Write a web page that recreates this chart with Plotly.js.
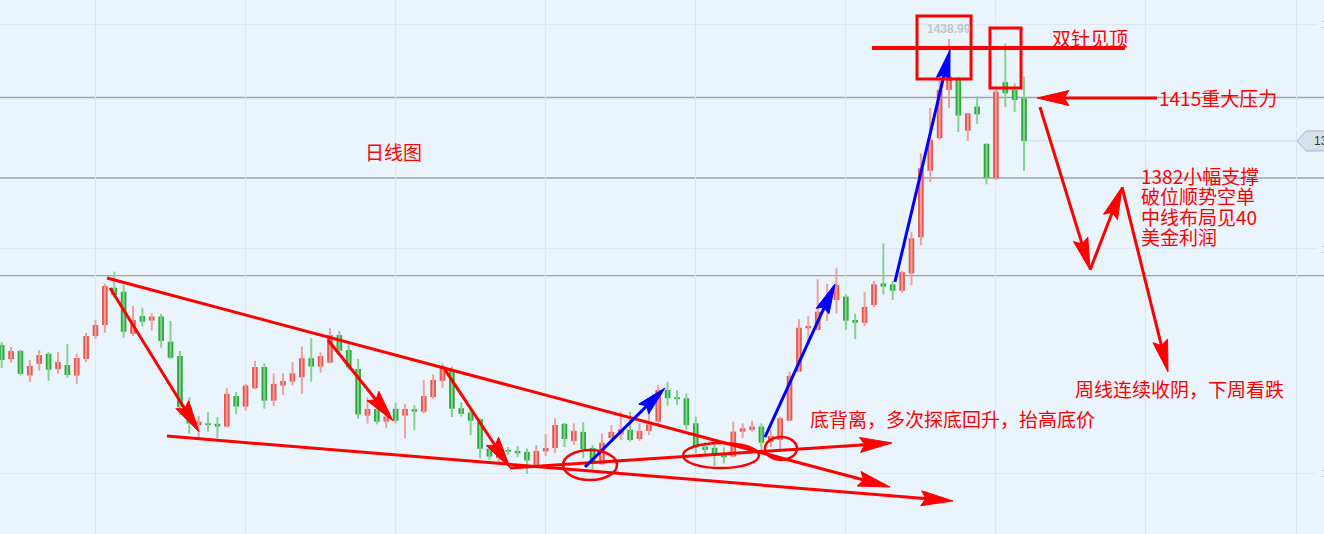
<!DOCTYPE html>
<html>
<head>
<meta charset="utf-8">
<script src="https://cdn.plot.ly/plotly-3.0.1.min.js"></script>
<style>
  html, body { margin: 0; padding: 0; background: #eaf4fd; }
  #chart { width: 1324px; height: 534px; }
</style>
</head>
<body>
<div id="chart"></div>
<script>
// Daily OHLC prices, oldest first
const openP = [
  1313.5, 1307.7, 1311.1, 1301.0, 1305.8, 1309.9, 1303.6, 1305.3, 1301.0, 1307.8,
  1317.2, 1321.7, 1337.0, 1335.4, 1318.1, 1325.4, 1323.5, 1325.2, 1314.9, 1309.0,
  1288.0, 1280.7, 1281.4, 1281.2, 1280.1, 1292.6, 1288.3, 1295.8, 1304.5, 1290.7,
  1296.9, 1298.5, 1300.3, 1308.1, 1304.7, 1306.3, 1317.6, 1311.5, 1303.7, 1284.6,
  1287.3, 1282.1, 1287.3, 1284.6, 1287.2, 1286.2, 1292.2, 1298.8, 1303.3, 1287.6,
  1285.8, 1283.1, 1271.0, 1267.2, 1270.5, 1270.1, 1269.7, 1263.9, 1269.9, 1271.3,
  1281.2, 1274.2, 1277.9, 1271.3, 1264.6, 1275.4, 1276.9, 1278.7, 1275.0, 1278.3,
  1282.1, 1295.1, 1292.1, 1291.7, 1281.4, 1271.9, 1271.4, 1268.9, 1267.8, 1278.0,
  1278.7, 1280.1, 1273.8, 1274.6, 1282.5, 1302.6, 1320.4, 1319.7, 1327.5, 1332.0,
  1333.4, 1323.8, 1322.6, 1329.9, 1338.8, 1338.4, 1335.8, 1342.9, 1357.7, 1385.0,
  1398.3, 1418.1, 1422.2, 1401.4, 1411.3, 1396.0, 1381.9, 1421.3, 1418.1, 1414.7
];
const highP = [
  1314.8, 1312.7, 1311.5, 1307.4, 1311.5, 1310.6, 1310.6, 1314.0, 1309.9, 1318.5,
  1323.8, 1338.6, 1343.6, 1338.1, 1329.5, 1328.8, 1326.5, 1326.3, 1323.4, 1311.1,
  1292.1, 1284.4, 1286.0, 1283.9, 1295.8, 1294.3, 1297.6, 1307.0, 1306.0, 1301.9,
  1301.9, 1306.5, 1312.9, 1316.3, 1310.6, 1320.4, 1319.3, 1314.0, 1307.8, 1292.1,
  1289.4, 1287.2, 1289.8, 1289.2, 1288.9, 1299.2, 1301.5, 1306.0, 1304.7, 1290.1,
  1287.6, 1283.5, 1272.1, 1271.3, 1271.7, 1272.1, 1271.1, 1272.5, 1277.1, 1283.5,
  1281.6, 1281.4, 1281.9, 1272.5, 1277.3, 1280.7, 1286.2, 1286.2, 1281.4, 1286.9,
  1297.1, 1298.5, 1295.1, 1293.7, 1284.2, 1273.7, 1273.2, 1271.6, 1282.1, 1281.4,
  1282.5, 1281.4, 1278.7, 1284.2, 1302.6, 1324.1, 1325.4, 1340.5, 1338.6, 1345.0,
  1334.3, 1326.3, 1335.3, 1339.8, 1355.2, 1339.8, 1343.9, 1359.8, 1392.1, 1410.8,
  1424.2, 1438.99, 1423.6, 1408.7, 1415.4, 1396.2, 1418.1, 1437.2, 1420.8, 1423.6
];
const lowP = [
  1304.1, 1306.3, 1301.0, 1298.3, 1303.0, 1298.9, 1301.7, 1300.1, 1297.6, 1306.5,
  1316.0, 1318.6, 1332.8, 1316.5, 1317.2, 1321.1, 1319.4, 1312.4, 1307.8, 1284.8,
  1277.3, 1275.7, 1278.0, 1275.3, 1279.6, 1285.1, 1286.6, 1295.4, 1287.4, 1288.5,
  1293.0, 1297.1, 1293.5, 1298.5, 1302.2, 1306.0, 1310.3, 1303.3, 1283.3, 1281.3,
  1281.0, 1279.6, 1281.4, 1275.3, 1278.7, 1285.5, 1291.5, 1296.0, 1284.0, 1284.2,
  1276.6, 1267.1, 1266.4, 1265.6, 1268.4, 1267.6, 1260.7, 1263.7, 1268.0, 1269.3,
  1271.7, 1272.5, 1267.1, 1262.5, 1264.3, 1273.8, 1274.6, 1273.9, 1274.2, 1276.6,
  1280.7, 1288.7, 1288.9, 1278.7, 1269.1, 1267.8, 1263.9, 1265.0, 1267.5, 1275.3,
  1278.0, 1270.5, 1271.7, 1269.8, 1282.3, 1302.4, 1314.2, 1319.5, 1323.4, 1326.5,
  1319.7, 1315.9, 1321.3, 1329.1, 1334.3, 1332.0, 1335.0, 1338.1, 1354.5, 1380.3,
  1397.6, 1410.6, 1400.8, 1397.2, 1404.2, 1379.4, 1381.2, 1411.0, 1409.0, 1384.9
];
const closeP = [
  1307.4, 1311.1, 1301.7, 1304.9, 1309.4, 1303.4, 1306.5, 1301.2, 1308.2, 1317.2,
  1321.7, 1337.7, 1334.0, 1319.0, 1323.8, 1323.1, 1325.2, 1315.2, 1308.3, 1288.0,
  1281.4, 1282.1, 1280.7, 1280.1, 1293.5, 1288.3, 1296.9, 1304.5, 1290.7, 1297.6,
  1298.8, 1301.9, 1308.1, 1304.7, 1309.0, 1317.6, 1311.2, 1304.4, 1285.1, 1287.3,
  1282.1, 1284.2, 1282.5, 1287.3, 1286.2, 1292.6, 1299.2, 1304.7, 1287.4, 1285.3,
  1282.5, 1271.0, 1267.8, 1269.7, 1269.8, 1269.1, 1266.2, 1270.1, 1271.3, 1280.7,
  1275.0, 1278.3, 1270.8, 1265.6, 1273.5, 1277.9, 1279.0, 1274.6, 1278.3, 1281.0,
  1295.1, 1291.7, 1291.3, 1280.7, 1271.9, 1270.5, 1268.4, 1267.5, 1278.0, 1279.4,
  1280.1, 1273.5, 1276.2, 1283.5, 1300.8, 1320.6, 1321.3, 1327.2, 1333.2, 1338.1,
  1323.5, 1322.7, 1329.1, 1338.4, 1337.5, 1335.8, 1343.4, 1357.3, 1386.0, 1397.6,
  1418.1, 1423.6, 1407.6, 1408.5, 1408.1, 1382.1, 1417.4, 1416.7, 1414.0, 1397.2
];

// Horizontal price levels drawn across the chart
const levelPrices = [1415, 1382, 1342];
// Right-hand price scale ticks
const priceTicks = [1261, 1353, 1445];
// Labelled top of the run-up
const peakPrice = 1438.99;

// Hand-drawn markup, in (day index, price)
const trendArrows = [          // red arrows: [x0, y0, x1, y1]
  [11.23, 1341.0, 94.71, 1255.3],
  [17.62, 1276.2, 101.43, 1249.6],
  [54.20, 1263.1, 94.92, 1273.4],
  [11.55, 1336.9, 21.04, 1277.9],
  [34.79, 1315.6, 41.72, 1282.4],
  [47.27, 1303.3, 54.20, 1263.1],
  [123.18, 1414.8, 110.38, 1414.8],
  [110.70, 1411.1, 116.04, 1344.3],
  [116.04, 1344.3, 119.45, 1378.3],
  [119.45, 1378.3, 124.35, 1302.5]
];
const rallyArrows = [          // blue arrows: [x0, y0, x1, y1]
  [62.19, 1263.5, 70.72, 1295.9],
  [81.38, 1275.8, 88.85, 1338.6],
  [95.24, 1339.4, 101.11, 1434.5]
];
const bottomRings = [          // [x0, y0, x1, y1]
  [59.85, 1270.5, 65.60, 1258.2],
  [72.64, 1273.4, 80.74, 1263.1],
  [81.38, 1275.8, 84.80, 1266.4]
];
const topBoxes = [             // [x0, y0, x1, y1]
  [97.59, 1448.4, 103.35, 1422.6],
  [105.37, 1443.5, 108.68, 1418.9]
];
const topLine = [92.79, 119.77, 1435.3];   // [x0, x1, price]

// Notes: [text, day index, price, anchor]
const notes = [
  ['日线图', 41.72, 1392.7, 'center'],
  ['双针见顶', 111.77, 1439.8, 'left'],
  ['1415重大压力', 123.18, 1415.0, 'left'],
  ['1382小幅支撑', 121.26, 1383.2, 'left'],
  ['破位顺势空单', 121.26, 1374.8, 'left'],
  ['中线布局见40', 121.26, 1366.4, 'left'],
  ['美金利润', 121.26, 1358.0, 'left'],
  ['底背离，多次探底回升，抬高底价', 85.97, 1283.6, 'left'],
  ['周线连续收阴，下周看跌', 114.22, 1295.9, 'left']
];

// ---- view geometry ----
const PLOT_W = 1316, PLOT_H = 534;
const X_RANGE = [-0.181, 140.13];
const Y_RANGE = [1236.04, 1454.98];
const PX_X = PLOT_W / (X_RANGE[1] - X_RANGE[0]);
const PX_Y = PLOT_H / (Y_RANGE[1] - Y_RANGE[0]);

const UP_BODY = '#e8564c', UP_WICK = '#eea0a0';
const DN_BODY = '#2caa3c', DN_WICK = '#88d092';
const INK_RED = '#ff0000', INK_BLUE = '#0000ff';

const day = openP.map((_, i) => i);
const isUp = closeP.map((c, i) => c >= openP[i]);

function wickTrace(wantUp, color) {
  const xs = [], ys = [];
  day.forEach((d, i) => {
    if (isUp[i] === wantUp) { xs.push(d, d, null); ys.push(lowP[i], highP[i], null); }
  });
  return { type: 'scatter', mode: 'lines', x: xs, y: ys,
           line: { color: color, width: 2 }, hoverinfo: 'skip' };
}

const bodies = {
  type: 'bar', x: day,
  base: day.map(i => Math.min(openP[i], closeP[i])),
  y: day.map(i => Math.abs(closeP[i] - openP[i])),
  width: 0.6,
  marker: { color: day.map(i => isUp[i] ? UP_BODY : DN_BODY), line: { width: 0 } },
  hoverinfo: 'skip'
};

// arrow = shaft line + slim triangular head, sized in screen pixels
function arrow(seg, color, width, headLen, headWid) {
  const [x0, y0, x1, y1] = seg;
  const dx = (x1 - x0) * PX_X, dy = (y1 - y0) * PX_Y;
  const d = Math.hypot(dx, dy), ux = dx / d, uy = dy / d;
  const back = headLen * 0.6;
  const bx = -ux * headLen, by = -uy * headLen;
  const nx = -uy * headWid / 2, ny = ux * headWid / 2;
  const pt = (ox, oy) => (x1 + ox / PX_X) + ',' + (y1 + oy / PX_Y);
  return [
    { type: 'line', xref: 'x', yref: 'y', x0: x0, y0: y0,
      x1: x1 - ux * back / PX_X, y1: y1 - uy * back / PX_Y,
      line: { color: color, width: width } },
    { type: 'path', xref: 'x', yref: 'y',
      path: 'M' + pt(0, 0) + ' L' + pt(bx + nx, by + ny) + ' L' + pt(bx * 0.85, by * 0.85) +
            ' L' + pt(bx - nx, by - ny) + ' Z',
      fillcolor: color, line: { color: color, width: 1 } }
  ];
}

const shapes = [];
levelPrices.forEach(p => shapes.push({
  type: 'line', xref: 'paper', yref: 'y', x0: 0, x1: 1.01, y0: p, y1: p,
  layer: 'below', line: { color: '#a2a2a2', width: 1.3 }
}));

// last-price line and tag
const lastClose = closeP[closeP.length - 1];
const tagLeft = 1297 / PLOT_W, tagNeck = 1306 / PLOT_W, tagHalf = 10 / PX_Y;
shapes.push({
  type: 'line', xref: 'x', yref: 'y', x0: day.length - 1, x1: (1297 / PX_X) + X_RANGE[0],
  y0: lastClose, y1: lastClose, layer: 'below', line: { color: '#cfdbe7', width: 1 }
});
shapes.push({
  type: 'path', xref: 'paper', yref: 'y',
  path: 'M' + tagLeft + ',' + lastClose + ' L' + tagNeck + ',' + (lastClose + tagHalf) +
        ' L1.03,' + (lastClose + tagHalf) + ' L1.03,' + (lastClose - tagHalf) +
        ' L' + tagNeck + ',' + (lastClose - tagHalf) + ' Z',
  fillcolor: '#d5e1ee', line: { color: '#aab7c6', width: 1 }
});

trendArrows.forEach(s => shapes.push(...arrow(s, INK_RED, 3, 32, 15)));
rallyArrows.forEach(s => shapes.push(...arrow(s, INK_BLUE, 3, 30, 14)));
bottomRings.forEach(r => shapes.push({
  type: 'circle', xref: 'x', yref: 'y', x0: r[0], y0: r[1], x1: r[2], y1: r[3],
  line: { color: INK_RED, width: 2.5 }
}));
topBoxes.forEach(r => shapes.push({
  type: 'rect', xref: 'x', yref: 'y', x0: r[0], y0: r[1], x1: r[2], y1: r[3],
  line: { color: INK_RED, width: 3 }
}));
shapes.push({
  type: 'line', xref: 'x', yref: 'y', x0: topLine[0], x1: topLine[1], y0: topLine[2], y1: topLine[2],
  line: { color: INK_RED, width: 4 }
});

const CJK = '"Noto Sans CJK SC", "Noto Sans", sans-serif';
const annotations = notes.map(n => ({
  text: n[0], x: n[1], y: n[2], xref: 'x', yref: 'y', xanchor: n[3], yanchor: 'middle',
  showarrow: false, font: { family: CJK, size: 19, color: INK_RED }
}));
annotations.push({
  text: peakPrice.toFixed(2), x: 101, y: peakPrice, xref: 'x', yref: 'y',
  xanchor: 'center', yanchor: 'bottom', yshift: 1, showarrow: false,
  font: { family: '"Liberation Sans", Arial, sans-serif', size: 12, color: '#c2c6ca', weight: 700 }
});
annotations.push({
  text: lastClose.toFixed(2), x: 1312 / PLOT_W, y: lastClose, xref: 'paper', yref: 'y',
  xanchor: 'left', yanchor: 'middle', showarrow: false,
  font: { family: '"Liberation Sans", Arial, sans-serif', size: 12, color: '#333333' }
});

const layout = {
  width: 1324, height: 534,
  margin: { l: 0, r: 8, t: 0, b: 0, pad: 0 },
  paper_bgcolor: '#eaf4fd', plot_bgcolor: '#eaf4fd',
  showlegend: false, hovermode: false,
  xaxis: {
    range: X_RANGE, tick0: 10, dtick: 16, showgrid: true, gridcolor: '#dce7f1', gridwidth: 1,
    zeroline: false, showticklabels: false, ticks: '', showline: false, fixedrange: true
  },
  yaxis: {
    range: Y_RANGE, side: 'right', tickvals: priceTicks, ticktext: priceTicks.map(String),
    showgrid: true, gridcolor: '#dce7f1', gridwidth: 1, zeroline: false, ticks: '',
    ticklabelstandoff: 5,
    showline: false, tickfont: { family: '"Liberation Sans", Arial, sans-serif', size: 11, color: '#b0b0b0' },
    fixedrange: true
  },
  shapes: shapes,
  annotations: annotations
};

Plotly.newPlot('chart', [wickTrace(true, UP_WICK), wickTrace(false, DN_WICK), bodies], layout,
  { staticPlot: true, displayModeBar: false });
</script>
</body>
</html>
